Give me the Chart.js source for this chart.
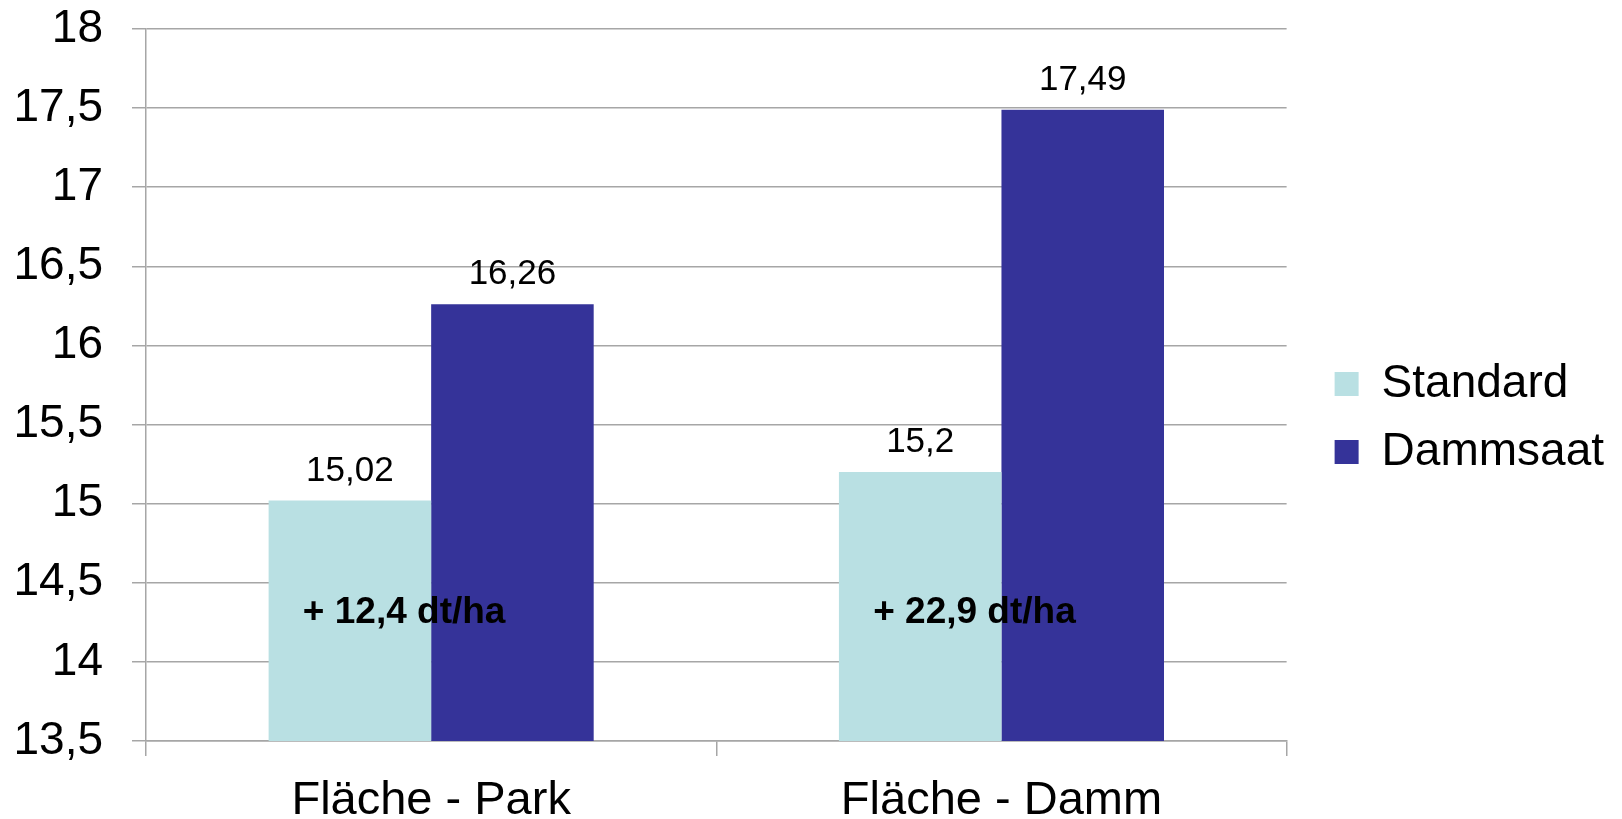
<!DOCTYPE html>
<html>
<head>
<meta charset="utf-8">
<script src="https://cdn.jsdelivr.net/npm/chart.js@4/dist/chart.umd.min.js"></script>
<style>
  html, body { margin: 0; padding: 0; background: #ffffff; }
  #wrap { width: 1622px; height: 819px; }
</style>
</head>
<body>
<div id="wrap"><canvas id="chart" width="1622" height="819"></canvas></div>
<script>
// Yield per field, standard sowing vs. ridge sowing
const categories = ['Fläche - Park', 'Fläche - Damm'];
const seriesNames = ['Standard', 'Dammsaat'];
const standardValues = [15.02, 15.2];
const dammsaatValues = [16.26, 17.49];
const gainLabels = ['+ 12,4 dt/ha', '+ 22,9 dt/ha'];
const gainLabelLevel = [14.31, 14.31];
const yTickValues = [13.5, 14, 14.5, 15, 15.5, 16, 16.5, 17, 17.5, 18];

const FONT = '"Liberation Sans", Arial, Helvetica, sans-serif';
const GRID = '#a6a6a6';
const fmt = v => String(v).replace('.', ',');

// Value above each bar plus the gain note inside each group
const barLabels = {
  id: 'barLabels',
  afterDatasetsDraw(chart) {
    const ctx = chart.ctx;
    ctx.save();
    ctx.fillStyle = '#000000';
    ctx.textAlign = 'center';
    ctx.textBaseline = 'alphabetic';
    ctx.font = '35px ' + FONT;
    chart.data.datasets.forEach((ds, i) => {
      chart.getDatasetMeta(i).data.forEach((bar, j) => {
        ctx.fillText(fmt(ds.data[j]), bar.x, bar.y - 20);
      });
    });
    const xs = chart.scales.x, ys = chart.scales.y;
    ctx.font = 'bold 37px ' + FONT;
    ctx.textBaseline = 'middle';
    gainLabels.forEach((t, j) => {
      ctx.fillText(t, xs.getPixelForValue(j) - 27, ys.getPixelForValue(gainLabelLevel[j]));
    });
    ctx.restore();
  }
};

// Leave a gap between the plot and the legend column, and lift the legend slightly
const legendGap = {
  id: 'legendGap',
  afterLayout(chart) {
    if (chart.legend) {
      chart.legend.left += 26;
      chart.legend.right += 26;
      chart.legend.top -= 6;
      chart.legend.bottom -= 6;
    }
  }
};

new Chart(document.getElementById('chart'), {
  type: 'bar',
  data: {
    labels: categories,
    datasets: [
      { label: seriesNames[0], data: standardValues, backgroundColor: '#b9e0e3', borderWidth: 0 },
      { label: seriesNames[1], data: dammsaatValues, backgroundColor: '#353399', borderWidth: 0 }
    ]
  },
  options: {
    responsive: false,
    animation: false,
    devicePixelRatio: 1,
    layout: { padding: { top: 29, right: 34, bottom: 0, left: 0 } },
    datasets: { bar: { categoryPercentage: 0.57, barPercentage: 1.0 } },
    plugins: {
      legend: {
        position: 'right',
        labels: {
          boxWidth: 24,
          boxHeight: 24,
          padding: 22,
          color: '#000000',
          font: { family: FONT, size: 46 }
        }
      },
      tooltip: { enabled: false }
    },
    scales: {
      x: {
        offset: true,
        afterFit(scale) { scale.height = 78; scale.paddingLeft = 0; scale.paddingRight = 0; },
        grid: {
          offset: true,
          drawOnChartArea: false,
          drawTicks: true,
          tickLength: 15,
          color: GRID,
          lineWidth: 1.5
        },
        border: { color: GRID, width: 1.5 },
        ticks: { color: '#000000', padding: 17, font: { family: FONT, size: 47 } }
      },
      y: {
        min: 13.5,
        max: 18,
        afterFit(scale) { scale.width = 146; scale.paddingTop = 0; scale.paddingBottom = 0; },
        afterBuildTicks(scale) { scale.ticks = yTickValues.map(v => ({ value: v })); },
        grid: { color: GRID, lineWidth: 1.5, tickLength: 14, drawTicks: true },
        border: { color: GRID, width: 1.5 },
        ticks: {
          color: '#000000',
          padding: 29,
          font: { family: FONT, size: 46 },
          callback: v => fmt(v)
        }
      }
    }
  },
  plugins: [barLabels, legendGap]
});
</script>
</body>
</html>
